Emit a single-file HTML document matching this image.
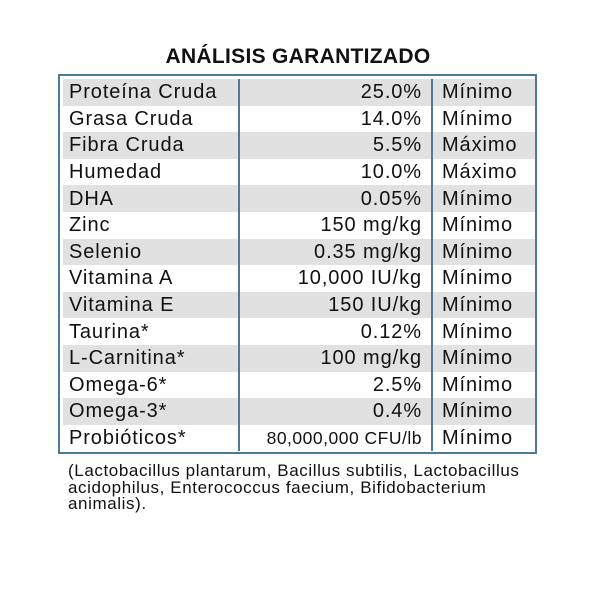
<!DOCTYPE html>
<html><head><style>
body{margin:0;width:600px;height:600px;background:#fff;font-family:"Liberation Sans",sans-serif;color:#111;position:relative;overflow:hidden}
.t{position:absolute;top:45px;left:0;width:596px;text-align:center;font-weight:bold;font-size:21px;letter-spacing:0.3px}
.box{position:absolute;left:58px;top:74px;width:475px;height:376px;border:2.5px solid #4d7a99;box-sizing:content-box}
table{border-collapse:collapse;position:absolute;left:3px;top:3px;width:472px;table-layout:fixed}
td{height:26.6px;padding:0;font-size:20px;letter-spacing:0.9px;line-height:26px;white-space:nowrap;overflow:hidden}
tr:nth-child(odd) td{background:#e1e1e1}
td.a{padding-left:6px}
td.b{text-align:right;padding-right:9px;border-left:2px solid #4d7a99;border-right:2px solid #4d7a99}
td.c{padding-left:9px}
.f{position:absolute;left:68px;top:463px;font-size:17px;letter-spacing:0.6px;line-height:16.5px;width:480px;white-space:nowrap}
</style></head><body>
<div class="t">ANÁLISIS GARANTIZADO</div>
<div class="box"><table>
<colgroup><col style="width:176px"><col style="width:193px"><col></colgroup>
<tr><td class="a">Proteína Cruda</td><td class="b">25.0%</td><td class="c">Mínimo</td></tr>
<tr><td class="a">Grasa Cruda</td><td class="b">14.0%</td><td class="c">Mínimo</td></tr>
<tr><td class="a">Fibra Cruda</td><td class="b">5.5%</td><td class="c">Máximo</td></tr>
<tr><td class="a">Humedad</td><td class="b">10.0%</td><td class="c">Máximo</td></tr>
<tr><td class="a">DHA</td><td class="b">0.05%</td><td class="c">Mínimo</td></tr>
<tr><td class="a">Zinc</td><td class="b">150 mg/kg</td><td class="c">Mínimo</td></tr>
<tr><td class="a">Selenio</td><td class="b">0.35 mg/kg</td><td class="c">Mínimo</td></tr>
<tr><td class="a">Vitamina A</td><td class="b">10,000 IU/kg</td><td class="c">Mínimo</td></tr>
<tr><td class="a">Vitamina E</td><td class="b">150 IU/kg</td><td class="c">Mínimo</td></tr>
<tr><td class="a">Taurina*</td><td class="b">0.12%</td><td class="c">Mínimo</td></tr>
<tr><td class="a">L-Carnitina*</td><td class="b">100 mg/kg</td><td class="c">Mínimo</td></tr>
<tr><td class="a">Omega-6*</td><td class="b">2.5%</td><td class="c">Mínimo</td></tr>
<tr><td class="a">Omega-3*</td><td class="b">0.4%</td><td class="c">Mínimo</td></tr>
<tr><td class="a">Probióticos*</td><td class="b" style="font-size:17.5px;letter-spacing:0.5px">80,000,000 CFU/lb</td><td class="c">Mínimo</td></tr>
</table></div>
<div class="f">(Lactobacillus plantarum, Bacillus subtilis, Lactobacillus<br>acidophilus, Enterococcus faecium, Bifidobacterium<br>animalis).</div>
</body></html>
